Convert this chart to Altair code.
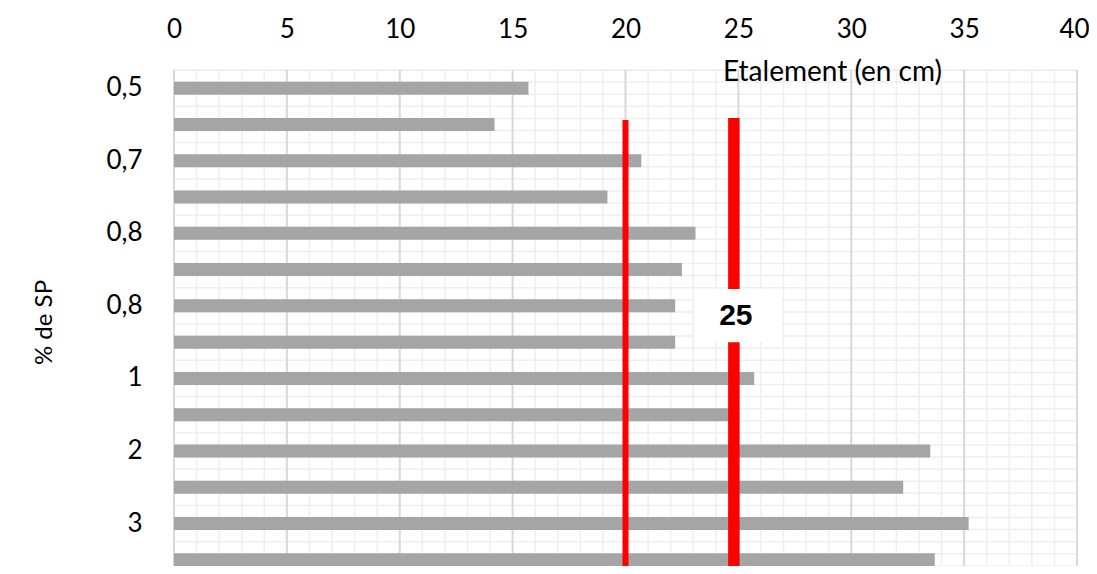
import altair as alt
import pandas as pd

# ---- data ----
bar_index = list(range(14))
bar_values = [15.7, 14.2, 20.7, 19.2, 23.1, 22.5, 22.2, 22.2, 25.7, 24.8, 33.5, 32.3, 35.2, 33.7]
bar_labels = ["0,5", "", "0,7", "", "0,8", "", "0,8", "", "1", "", "2", "", "3", ""]
x_ticks = [0, 5, 10, 15, 20, 25, 30, 35, 40]
minor_x = [v for v in range(0, 41) if v % 5 != 0]
grid_rows = list(range(0, 43))  # 3 minor rows per category
limit_low = [20]
limit_high = [24.8]
label_text = ["25"]

W, H_VIEW, H_RANGE = 903, 496, 508
FONT = "Lato"

bars_df = pd.DataFrame({"idx": bar_index, "value": bar_values})
label_expr = "[" + ",".join("'%s'" % s for s in bar_labels) + "][datum.value]"

xscale = alt.Scale(domain=[0, 40], nice=False, zero=True)
qy = alt.Scale(domain=[0, 42], range=[0, H_RANGE], nice=False, zero=False)

x_axis = alt.Axis(orient="top", values=x_ticks, grid=False, domain=False, ticks=False,
                  labelFont=FONT, labelFontSize=26, labelColor="#000000", labelPadding=28,
                  labelFlush=False, zindex=1,
                  labelOffset={"condition": {"test": "datum.value == 40", "value": -3}, "value": 0},
                  title="Etalement (en cm)", titleFont=FONT, titleFontSize=28,
                  titleFontWeight="normal", titleColor="#000000",
                  titleX=658, titleY=10, titleAlign="center", titleBaseline="alphabetic")


def X(field):
    return alt.X(field, scale=xscale, axis=x_axis)


# grid
hgrid = alt.Chart(pd.DataFrame({"r": grid_rows})).mark_rule(color="#efefef", strokeWidth=1.5).encode(
    y=alt.Y("r:Q", scale=qy, axis=None)
)
vminor = alt.Chart(pd.DataFrame({"value": minor_x})).mark_rule(color="#efefef", strokeWidth=1.5).encode(
    x=X("value:Q"), y=alt.value(0), y2=alt.value(H_RANGE),
)
vmajor = alt.Chart(pd.DataFrame({"value": x_ticks})).mark_rule(color="#d9d9d9", strokeWidth=2).encode(
    x=X("value:Q"), y=alt.value(0), y2=alt.value(H_RANGE),
)

bars = alt.Chart(bars_df).mark_bar(size=13, color="#a5a5a5").encode(
    x=X("value:Q"),
    y=alt.Y("idx:O", scale=alt.Scale(range=[0, H_RANGE], paddingInner=0, paddingOuter=0),
            axis=alt.Axis(labelExpr=label_expr, grid=False, domain=False, ticks=False,
                          labelFont=FONT, labelFontSize=26, labelColor="#000000", labelPadding=32,
                          labelBaseline="middle",
                          title="% de SP", titleFont=FONT, titleFontSize=24, titleFontWeight="normal",
                          titleColor="#000000", titleX=-130, titleY=252, titleAngle=-90,
                          titleAlign="center", titleBaseline="middle")),
)

red_low = alt.Chart(pd.DataFrame({"value": limit_low})).mark_rule(color="#ff0000", strokeWidth=6).encode(
    x=X("value:Q"), y=alt.value(50), y2=alt.value(H_RANGE)
)
red_high = alt.Chart(pd.DataFrame({"value": limit_high})).mark_rule(color="#ff0000", strokeWidth=11.5).encode(
    x=X("value:Q"), y=alt.value(48), y2=alt.value(H_RANGE)
)

lab_df = pd.DataFrame({"value": limit_high, "t": label_text, "x1": [23.05], "x2": [26.9],
                       "y1": [18.1], "y2": [22.5], "yc": [20.35]})
lab_box = alt.Chart(lab_df).mark_rect(color="#ffffff").encode(
    x=X("x1:Q"), x2="x2:Q",
    y=alt.Y("y1:Q", scale=qy, axis=None), y2="y2:Q",
)
lab_txt = alt.Chart(lab_df).mark_text(font="Liberation Sans", fontSize=30, fontWeight="bold",
                                      color="#000000", baseline="middle", align="center", dx=2).encode(
    x=X("value:Q"),
    y=alt.Y("yc:Q", scale=qy, axis=None),
    text="t:N",
)

chart = alt.layer(hgrid, vminor, vmajor, bars, red_low, red_high, lab_box, lab_txt).resolve_scale(
    y="independent"
).properties(
    width=W, height=H_VIEW,
    autosize=alt.AutoSizeParams(type="none"),
    padding={"left": 166, "top": 62, "right": 12, "bottom": 0},
).configure_view(stroke=None).configure(background="#ffffff")

chart.save("out.html", embed_options={"renderer": "svg", "actions": False})
